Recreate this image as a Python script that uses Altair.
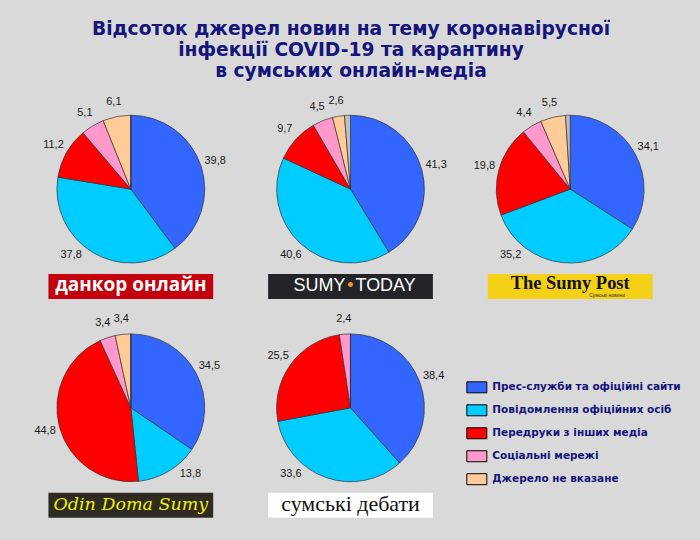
import altair as alt
import pandas as pd

title_lines = ["Відсоток джерел новин на тему коронавірусної",
               "інфекції COVID-19 та карантину",
               "в сумських онлайн-медіа"]

categories = ["Прес-служби та офіційні сайти", "Повідомлення офіційних осіб",
              "Передруки з інших медіа", "Соціальні мережі", "Джерело не вказане", "Інше"]
legend_categories = categories[:5]
colors = ["#3366ff", "#00ccff", "#ff0000", "#ff99cc", "#ffcc99", "#c0c0c0"]

dankor = [39.8, 37.8, 11.2, 5.1, 6.1, 0.0]
sumy_today = [41.3, 40.6, 9.7, 4.5, 2.6, 1.3]
sumy_post = [34.1, 35.2, 19.8, 4.4, 5.5, 1.0]
odin_doma = [34.5, 13.8, 44.8, 3.4, 3.4, 0.0]
debaty = [38.4, 33.6, 25.5, 2.4, 0.0, 0.0]

media_names = ["данкор онлайн", "SUMY•TODAY", "The Sumy Post", "Odin Doma Sumy", "сумські дебати"]
today_parts = ["SUMY", "•", "TODAY"]
post_sub = ["Сумські новини"]

NAVY = "#14147a"
BG = "#d9d9d9"
R_LABEL = 89
Y_LIMIT = 66

color_enc = alt.Color(
    "cat:N",
    scale=alt.Scale(domain=categories, range=colors),
    legend=alt.Legend(
        values=legend_categories, title=None, orient="none", legendX=446, legendY=273,
        symbolType="M-1,-0.55L1,-0.55L1,0.55L-1,0.55Z", symbolSize=400,
        symbolStrokeColor="#000000", symbolStrokeWidth=1, symbolOpacity=1,
        labelFont="DejaVu Sans", labelFontSize=10.5, labelFontWeight="bold",
        labelColor=NAVY, labelLimit=300, labelOffset=5, rowPadding=5, padding=0, offset=0,
    ),
)


def pie(values):
    df = pd.DataFrame({"cat": categories, "v": values, "idx": list(range(len(categories)))})
    arcs = alt.Chart(df).mark_arc(outerRadius=74, stroke="#333333", strokeWidth=0.7).encode(
        theta=alt.Theta("v:Q", stack=True),
        order=alt.Order("idx:Q"),
        color=color_enc,
    )
    text = alt.Chart(df).transform_joinaggregate(
        total="sum(v)"
    ).transform_window(
        cum="sum(v)", sort=[alt.SortField("idx")], frame=[None, 0]
    ).transform_calculate(
        mid="(datum.cum - datum.v / 2) / datum.total * 2 * PI",
        rx=f"{R_LABEL} * sin(datum.mid)",
        ry=f"{R_LABEL} * cos(datum.mid)",
        lx=f"datum.ry < -{Y_LIMIT} ? (datum.rx < 0 ? -1 : 1) * sqrt({R_LABEL}*{R_LABEL} - {Y_LIMIT}*{Y_LIMIT}) : datum.rx",
        ly=f"max(datum.ry, -{Y_LIMIT})",
        label="datum.v > 0 && datum.idx < 5 ? replace(format(datum.v, '.1f'), '.', ',') : ''",
    ).mark_text(font="Liberation Sans", fontSize=11, color="#1a1a1a", baseline="middle").encode(
        x=alt.X("lx:Q", scale=alt.Scale(domain=[-110, 110], nice=False, zero=False), axis=None),
        y=alt.Y("ly:Q", scale=alt.Scale(domain=[-85, 85], nice=False, zero=False), axis=None),
        text="label:N",
    )
    return alt.layer(arcs, text).properties(width=220, height=170)


def logo(name, fill, texts):
    """A coloured name plate: one band (165 of 220 px) holding the media name."""
    base = alt.Chart(pd.DataFrame({"name": [name]})).encode(
        x=alt.X("name:N", scale=alt.Scale(paddingOuter=1 / 6, paddingInner=0), axis=None)
    )
    layers = [base.mark_bar(color=fill)]
    for txt, kw in texts:
        layers.append(base.mark_text(text=txt, baseline="middle", **kw))
    return alt.layer(*layers).properties(width=220, height=25)


def spacer(h=24):
    return alt.Chart(pd.DataFrame({"name": [""]})).mark_text().encode(text="name:N").properties(
        width=220, height=h)


logo_dankor = logo(media_names[0], "#c3000b", [
    (media_names[0], dict(font="Open Sans", fontSize=19, fontWeight="bold", color="white", dy=-1)),
])
logo_today = logo(media_names[1], "#222428", [
    (today_parts[0], dict(font="Liberation Sans", fontSize=18, color="white", align="right", dx=-5)),
    (today_parts[1], dict(font="Liberation Sans", fontSize=18, color="#f7941d")),
    (today_parts[2], dict(font="Liberation Sans", fontSize=18, color="white", align="left", dx=5)),
])
logo_post = logo(media_names[2], "#f4d016", [
    (media_names[2], dict(font="Liberation Serif", fontSize=18.5, fontWeight="bold", color="#111111", dy=-3)),
    (post_sub[0], dict(font="Liberation Sans", fontSize=5, color="#333333", dx=37, dy=9)),
])
logo_odin = logo(media_names[3], "#2f2a22", [
    (media_names[3], dict(font="DejaVu Serif", fontSize=17.5, fontStyle="italic", color="#f0f000")),
])
logo_debaty = logo(media_names[4], "#ffffff", [
    (media_names[4], dict(font="Liberation Serif", fontSize=22, color="#111111", dy=-1)),
])

cells = [
    pie(dankor), pie(sumy_today), pie(sumy_post),
    logo_dankor, logo_today, logo_post,
    spacer(), spacer(), spacer(),
    pie(odin_doma), pie(debaty), spacer(170),
    logo_odin, logo_debaty, spacer(25),
]

chart = alt.concat(
    *cells, columns=3, spacing=0, bounds="flush", align="each"
).resolve_scale(
    theta="independent", color="shared"
).properties(
    title=alt.Title(title_lines, font="DejaVu Sans", fontSize=18.7, fontWeight="bold",
                    color=NAVY, lineHeight=21, anchor="middle", offset=14),
    padding={"left": 21, "top": 19, "right": 19, "bottom": 24},
    background=BG,
).configure_view(stroke=None)

chart.save("out.html", embed_options={"renderer": "svg", "actions": False})
